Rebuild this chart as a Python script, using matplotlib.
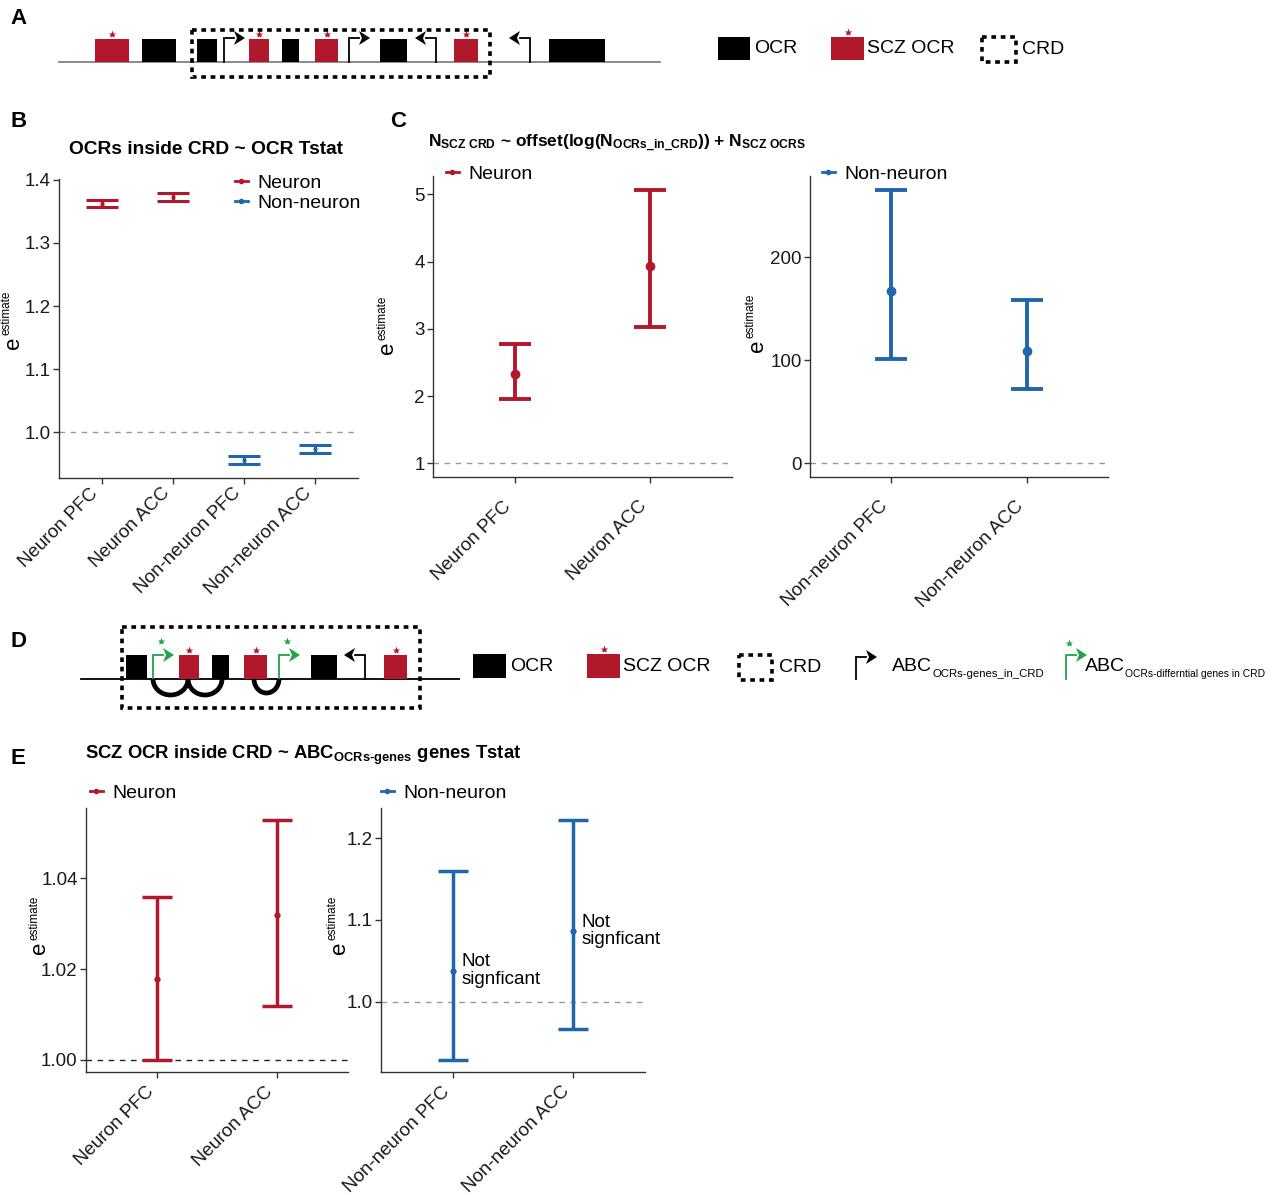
import numpy as np
import matplotlib
matplotlib.use("Agg")
import matplotlib.pyplot as plt
from matplotlib.lines import Line2D
from matplotlib.patches import Rectangle, Polygon, Arc
from matplotlib.transforms import ScaledTranslation

plt.rcParams["font.family"] = ["Liberation Sans", "DejaVu Sans"]
plt.rcParams["mathtext.fontset"] = "custom"
plt.rcParams["mathtext.rm"] = "Liberation Sans"
plt.rcParams["mathtext.bf"] = "Liberation Sans:bold"
plt.rcParams["mathtext.it"] = "Liberation Sans:italic"

RED = "#B2182B"
BLUE = "#2166AC"
GREEN = "#1FA44A"
W, H = 1280, 1195

# ---- data ----
# B: OCRs inside CRD ~ OCR Tstat
b_groups = ["Neuron PFC", "Neuron ACC", "Non-neuron PFC", "Non-neuron ACC"]
b_cells = ["Neuron", "Neuron", "Non-neuron", "Non-neuron"]
b_est = [1.362, 1.3735, 0.9555, 0.9738]
b_low = [1.3565, 1.367, 0.949, 0.967]
b_high = [1.3676, 1.3797, 0.962, 0.9805]

# C: N_SCZ CRD ~ offset(log(N_OCRs_in_CRD)) + N_SCZ OCRS
c_neuron_groups = ["Neuron PFC", "Neuron ACC"]
c_neuron_est = [2.33, 3.93]
c_neuron_low = [1.95, 3.03]
c_neuron_high = [2.78, 5.07]
c_nonneuron_groups = ["Non-neuron PFC", "Non-neuron ACC"]
c_nonneuron_est = [167.5, 109.0]
c_nonneuron_low = [101.5, 72.0]
c_nonneuron_high = [265.5, 158.5]

# E: SCZ OCR inside CRD ~ ABC genes Tstat
e_neuron_groups = ["Neuron PFC", "Neuron ACC"]
e_neuron_est = [1.0178, 1.032]
e_neuron_low = [1.0, 1.0118]
e_neuron_high = [1.0359, 1.0528]
e_nonneuron_groups = ["Non-neuron PFC", "Non-neuron ACC"]
e_nonneuron_est = [1.038, 1.0866]
e_nonneuron_low = [0.929, 0.9667]
e_nonneuron_high = [1.160, 1.222]
e_nonneuron_notes = ["Not\nsignficant", "Not\nsignficant"]

cell_colors = {"Neuron": RED, "Non-neuron": BLUE}

fig = plt.figure(figsize=(12.8, 11.95), dpi=100)


def px_axes(l, t, r, b):
    return fig.add_axes([l / W, 1 - b / H, (r - l) / W, (b - t) / H])


def style_axes(ax, xpad):
    for s in ["top", "right"]:
        ax.spines[s].set_visible(False)
    for s in ["left", "bottom"]:
        ax.spines[s].set_linewidth(1.0)
        ax.spines[s].set_color("#333333")
    ax.tick_params(length=4, width=1, color="#333333", labelsize=13.5,
                   labelcolor="#1a1a1a", pad=2)
    ax.tick_params(axis="x", pad=xpad)


def forest(ax, labels, est, low, high, colors, ref, ref_color, ms, lw,
           capsize, ticks, ticklabels, xpad=2):
    x = np.arange(1, len(labels) + 1)
    est, low, high = np.array(est), np.array(low), np.array(high)
    ax.axhline(ref, color=ref_color, lw=1.0, ls=(0, (4, 4)), zorder=1)
    for i in range(len(x)):
        ax.errorbar(x[i], est[i], yerr=[[est[i] - low[i]], [high[i] - est[i]]],
                    fmt="o", color=colors[i], ms=ms, elinewidth=lw,
                    capsize=capsize, capthick=lw, zorder=3)
    lo = min(low.min(), ref)
    hi = max(high.max(), ref)
    pad = 0.05 * (hi - lo)
    ax.set_ylim(lo - pad, hi + pad)
    ax.set_xlim(0.4, len(x) + 0.6)
    ax.set_yticks(ticks)
    ax.set_yticklabels(ticklabels)
    ax.set_xticks(x)
    ax.set_xticklabels(labels, rotation=45, ha="right", va="top", fontsize=14)
    # nudge rotated labels a little to the right, like ggplot's hjust = 1
    shift = ScaledTranslation(4 / 100, 0, fig.dpi_scale_trans)
    for lab in ax.get_xticklabels():
        lab.set_transform(lab.get_transform() + shift)
    style_axes(ax, xpad)


def key_legend(ax, names, colors, x, y):
    handles = [Line2D([], [], color=c, lw=2, marker="o", ms=3) for c in colors]
    ax.legend(handles, names, loc="center left",
              bbox_to_anchor=(x / W, 1 - y / H), bbox_transform=fig.transFigure,
              frameon=False, fontsize=14, handlelength=0.65,
              handletextpad=0.5, borderpad=0, borderaxespad=0,
              labelspacing=0.1)


# ---- panel B ----
axb = px_axes(59, 179, 358, 478)
forest(axb, b_groups, b_est, b_low, b_high, [cell_colors[c] for c in b_cells],
       1.0, "#999999", 2, 2.2, 11.5, [1.0, 1.1, 1.2, 1.3, 1.4],
       ["1.0", "1.1", "1.2", "1.3", "1.4"], xpad=1)
key_legend(axb, ["Neuron", "Non-neuron"], [RED, BLUE], 235, 193)

# ---- panel C ----
axc1 = px_axes(433, 176, 732, 477)
forest(axc1, c_neuron_groups, c_neuron_est, c_neuron_low, c_neuron_high,
       [RED, RED], 1.0, "#999999", 6, 2.8, 11.5, [1, 2, 3, 4, 5],
       ["1", "2", "3", "4", "5"], xpad=11)
key_legend(axc1, ["Neuron"], [RED], 446, 174)

axc2 = px_axes(810, 176, 1108, 477)
forest(axc2, c_nonneuron_groups, c_nonneuron_est, c_nonneuron_low,
       c_nonneuron_high, [BLUE, BLUE], 0.0, "#999999", 6, 2.8, 11.5,
       [0, 100, 200], ["0", "100", "200"], xpad=11)
key_legend(axc2, ["Non-neuron"], [BLUE], 822, 174)

# ---- panel E ----
axe1 = px_axes(86, 808, 348, 1072)
forest(axe1, e_neuron_groups, e_neuron_est, e_neuron_low, e_neuron_high,
       [RED, RED], 1.0, "#222222", 3.5, 2.5, 11, [1.00, 1.02, 1.04],
       ["1.00", "1.02", "1.04"], xpad=4)
key_legend(axe1, ["Neuron"], [RED], 90, 793)

axe2 = px_axes(381, 808, 645, 1072)
forest(axe2, e_nonneuron_groups, e_nonneuron_est, e_nonneuron_low,
       e_nonneuron_high, [BLUE, BLUE], 1.0, "#999999", 3.5, 2.5, 11,
       [1.0, 1.1, 1.2], ["1.0", "1.1", "1.2"], xpad=4)
key_legend(axe2, ["Non-neuron"], [BLUE], 381, 793)
for i, note in enumerate(e_nonneuron_notes):
    axe2.annotate(note, (i + 1, e_nonneuron_est[i]), xytext=(6, 0),
                  textcoords="offset points", ha="left", va="center",
                  fontsize=13.5, linespacing=1.05)

# ---- schematics and labels (pixel space overlay) ----
ann = fig.add_axes([0, 0, 1, 1])
ann.set_xlim(0, W)
ann.set_ylim(H, 0)
ann.axis("off")


def ylabel_e(ex, ey):
    # "e" with a small raised "estimate", both rotated
    ann.text(ex, ey, "e", fontsize=16, rotation=90, ha="center", va="center")
    ann.text(ex - 6, ey - 8, "estimate", fontsize=8.5, rotation=90,
             ha="center", va="bottom")


def ocr_box(x0, x1, top, bottom, kind):
    color = RED if kind == "scz" else "black"
    ann.add_patch(Rectangle((x0, top), x1 - x0, bottom - top, color=color,
                            lw=0, zorder=3))
    if kind == "scz":
        ann.plot((x0 + x1) / 2, top - 5, marker="*", ms=6, color=RED,
                 mec="none", zorder=3)


def tss_arrow(x, base, top, direction, color, lw=1.3):
    tip = x + direction * 21
    neck = x + direction * 10
    ann.plot([x, x, neck], [base, top, top], color=color, lw=lw,
             solid_joinstyle="miter", zorder=3)
    ann.add_patch(Polygon([(tip, top), (neck, top - 7), (neck + direction * 3, top),
                           (neck, top + 7)], closed=True, color=color, lw=0,
                          zorder=3))


def crd_box(x0, y0, x1, y1, lw=2.6):
    ann.add_patch(Rectangle((x0, y0), x1 - x0, y1 - y0, fill=False,
                            ec="black", lw=lw, ls=(0, (1.3, 1.3)), zorder=4))


def abc_label(x, y, sub, subsize):
    t = ann.text(x, y, "ABC", fontsize=14, ha="left", va="center")
    ann.annotate(sub, xy=(1.01, 0.02), xycoords=t, fontsize=subsize,
                 ha="left", va="center")


ylabel_e(13, 343)
ylabel_e(388, 348)
ylabel_e(757, 346)
ylabel_e(40, 948)
ylabel_e(339, 948)

# panel A layout
a_boxes = [(95, 129, "scz"), (142, 176, "ocr"), (197, 217, "ocr"),
           (249, 269, "scz"), (282, 299, "ocr"), (315, 338, "scz"),
           (380, 407, "ocr"), (454, 478, "scz"), (549, 605, "ocr")]
a_arrows = [(224, 1), (349, 1), (436, -1), (530, -1)]
ann.plot([59, 660], [61.5, 61.5], color="#777777", lw=1.2, zorder=2)
for x0, x1, kind in a_boxes:
    ocr_box(x0, x1, 39, 62, kind)
for x, d in a_arrows:
    tss_arrow(x, 61.5, 38, d, "black")
crd_box(192, 30, 490, 77)

ocr_box(718, 750, 37, 60, "ocr")
ann.text(754, 48, "OCR", fontsize=14, ha="left", va="center")
ocr_box(831, 864, 37, 60, "scz")
ann.text(867, 48, "SCZ OCR", fontsize=14, ha="left", va="center")
crd_box(982, 37, 1016, 62)
ann.text(1022, 49, "CRD", fontsize=14, ha="left", va="center")

# panel D layout
d_boxes = [(126, 147, "ocr"), (179, 199, "scz"), (212, 229, "ocr"),
           (244, 267, "scz"), (311, 337, "ocr"), (384, 407, "scz")]
d_arrows = [(153, 1, GREEN), (279, 1, GREEN), (365, -1, "black")]
d_arcs = [(153, 188, 16), (188, 222, 16), (254, 279, 14)]
ann.plot([81, 459], [679, 679], color="black", lw=1.3, zorder=2)
for x0, x1, kind in d_boxes:
    ocr_box(x0, x1, 655, 679, kind)
for x, d, c in d_arrows:
    tss_arrow(x, 679, 655, d, c)
    if c == GREEN:
        ann.plot(x + 8, 641, marker="*", ms=6, color=GREEN, mec="none")
for x0, x1, depth in d_arcs:
    ann.add_patch(Arc(((x0 + x1) / 2, 679), x1 - x0, 2 * depth, theta1=0,
                      theta2=180, lw=3.4, color="black", zorder=3))
crd_box(122, 627, 420, 708)

ocr_box(473, 506, 654, 678, "ocr")
ann.text(510, 666, "OCR", fontsize=14, ha="left", va="center")
ocr_box(587, 620, 654, 678, "scz")
ann.text(623, 666, "SCZ OCR", fontsize=14, ha="left", va="center")
crd_box(739, 655, 772, 680)
ann.text(779, 667, "CRD", fontsize=14, ha="left", va="center")
tss_arrow(856, 679, 657, 1, "black")
abc_label(892, 666, "OCRs-genes_in_CRD", 8.2)
tss_arrow(1066, 679, 655, 1, GREEN)
ann.plot(1069, 643, marker="*", ms=6, color=GREEN, mec="none")
abc_label(1085, 666, "OCRs-differntial genes in CRD", 7.4)

# titles
ann.text(206, 149, "OCRs inside CRD ~ OCR Tstat", fontsize=13.8,
         fontweight="bold", ha="center", va="center")
ann.text(428, 143,
         r"$\mathbf{N_{SCZ\ CRD}}$ ~ offset(log($\mathbf{N_{OCRs\_in\_CRD}}$))"
         r" + $\mathbf{N_{SCZ\ OCRS}}$",
         fontsize=12.5, fontweight="bold", ha="left", va="center")
ann.text(85, 755, r"SCZ OCR inside CRD ~ ABC$_{\mathbf{OCRs‐genes}}$ genes Tstat",
         fontsize=13.3, fontweight="bold", ha="left", va="center")

# panel letters
for letter, x, y in [("A", 10, 18), ("B", 11, 121), ("C", 390, 121),
                     ("D", 10, 641), ("E", 10, 758)]:
    ann.text(x, y, letter, fontsize=16, fontweight="bold", ha="left",
             va="center")

fig.savefig("out.png", dpi=100)
